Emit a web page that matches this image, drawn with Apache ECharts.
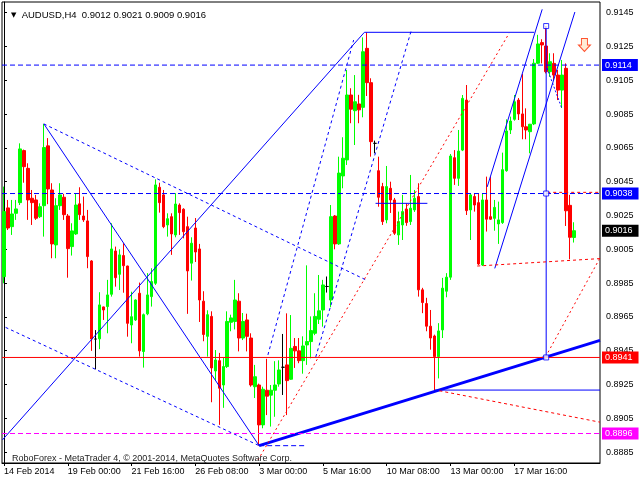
<!DOCTYPE html>
<html><head><meta charset="utf-8">
<script src="https://cdn.jsdelivr.net/npm/echarts@6/dist/echarts.min.js"></script>
<style>html,body{margin:0;padding:0;background:#fff}#c{width:640px;height:480px}</style>
</head><body><div id="c"></div>
<script>
const FONT = '"Liberation Sans", Arial, sans-serif';
const BAR_COUNT = 150;
const xTickBars = [0, 16, 32, 48, 64, 80, 96, 112, 128];
const xTickLabels = ['14 Feb 2014', '19 Feb 00:00', '21 Feb 16:00', '26 Feb 08:00', '3 Mar 00:00', '5 Mar 16:00', '10 Mar 08:00', '13 Mar 00:00', '17 Mar 16:00'];
const yTicks = [0.8885, 0.8905, 0.8925, 0.8945, 0.8965, 0.8985, 0.9005, 0.9025, 0.9045, 0.9065, 0.9085, 0.9105, 0.9125, 0.9145];

const opens = [
0.89888,0.90295,0.90184,0.90263,0.90326,0.90634,0.90529,0.90352,0.90342,0.90243,
0.90308,0.90662,0.90401,0.90076,0.90308,0.90358,0.90247,0.90066,0.90141,0.90319,
0.90247,0.90218,0.89981,0.89519,0.89520,0.89709,0.89711,0.89784,0.90040,0.89902,
0.90013,0.89951,0.89602,0.89632,0.89790,0.89445,0.89668,0.89770,0.89849,0.90417,
0.90372,0.90194,0.90243,0.90135,0.90312,0.90287,0.90184,0.89968,0.90176,0.90052,
0.89743,0.89535,0.89653,0.89330,0.89391,0.89247,0.89356,0.89618,0.89623,0.89743,
0.89525,0.89632,0.89525,0.89237,0.89247,0.89011,0.89216,0.89187,0.89216,0.89253,
0.89352,0.89366,0.89281,0.89475,0.89449,0.89391,0.89484,0.89504,0.89553,0.89636,
0.89691,0.89830,0.89750,0.90247,0.90082,0.90484,0.90579,0.90963,0.90870,0.90910,
0.90890,0.91239,0.91036,0.90677,0.90515,0.90421,0.90224,0.90411,0.90342,0.90135,
0.90194,0.90287,0.90214,0.90283,0.90362,0.89810,0.89729,0.89595,0.89537,0.89415,
0.89573,0.89802,0.89885,0.90592,0.90470,0.90637,0.90933,0.90283,0.90362,0.90326,
0.89957,0.90342,0.90243,0.90233,0.90200,0.90208,0.90515,0.90756,0.90819,0.90933,
0.90851,0.90775,0.90746,0.90792,0.91151,0.91273,0.91253,0.91101,0.91150,0.91081,
0.90992,0.91121,0.90310,0.9012];
const closes = [
0.90273,0.90176,0.90259,0.90289,0.90644,0.90539,0.90342,0.90326,0.90234,0.90302,
0.90652,0.90407,0.90082,0.90308,0.90372,0.90255,0.90054,0.90159,0.90312,0.90255,
0.90224,0.90007,0.89519,0.89519,0.89721,0.89691,0.89780,0.90052,0.89882,0.90017,
0.89953,0.89612,0.89651,0.89750,0.89449,0.89663,0.89780,0.89859,0.90431,0.90326,
0.90184,0.90231,0.90141,0.90318,0.90267,0.90154,0.89922,0.90086,0.90034,0.89750,
0.89546,0.89663,0.89348,0.89395,0.89228,0.89356,0.89623,0.89644,0.89750,0.89525,
0.89623,0.89535,0.89247,0.89296,0.89011,0.89222,0.89181,0.89216,0.89247,0.89336,
0.89352,0.89273,0.89464,0.89449,0.89391,0.89478,0.89504,0.89569,0.89653,0.89686,
0.89839,0.89830,0.90243,0.90082,0.90501,0.90589,0.90963,0.90879,0.90923,0.90875,
0.91219,0.91036,0.90687,0.90677,0.90358,0.90214,0.90421,0.90342,0.90145,0.90214,
0.90273,0.90208,0.90293,0.90352,0.89810,0.89735,0.89595,0.89525,0.89415,0.89567,
0.89820,0.89885,0.90602,0.90470,0.90631,0.90943,0.90279,0.90372,0.90312,0.89963,
0.90342,0.90228,0.90228,0.90298,0.90224,0.90521,0.90750,0.90809,0.90923,0.90851,
0.90775,0.90756,0.90790,0.91151,0.91265,0.91259,0.91101,0.91160,0.91081,0.90992,
0.91081,0.90278,0.90121,0.9016];
const lows = [
0.89849,0.90164,0.90135,0.90224,0.90312,0.90444,0.90224,0.90194,0.90224,0.90235,
0.90125,0.90317,0.89997,0.89997,0.90283,0.90224,0.89882,0.90013,0.90135,0.90224,
0.90212,0.89938,0.89449,0.89340,0.89459,0.89632,0.89553,0.89770,0.89829,0.89809,
0.89793,0.89533,0.89494,0.89626,0.89415,0.89350,0.89660,0.89711,0.89839,0.90267,
0.90175,0.90125,0.90017,0.90121,0.90135,0.90115,0.89668,0.89865,0.89975,0.89620,
0.89506,0.89415,0.89145,0.89277,0.89011,0.89112,0.89348,0.89565,0.89576,0.89446,
0.89513,0.89446,0.89237,0.89170,0.88888,0.88991,0.89069,0.89001,0.89059,0.89237,
0.89188,0.89069,0.89277,0.89348,0.89376,0.89314,0.89366,0.89405,0.89542,0.89608,
0.89592,0.89794,0.89707,0.90050,0.90076,0.90411,0.90549,0.90796,0.90667,0.90796,
0.90831,0.90957,0.90598,0.90618,0.90302,0.90194,0.90204,0.90265,0.90135,0.90076,
0.90105,0.90189,0.90194,0.90271,0.89770,0.89672,0.89565,0.89456,0.89213,0.89286,
0.89525,0.89766,0.89869,0.90431,0.90425,0.90631,0.90253,0.90105,0.90273,0.89957,
0.89951,0.90155,0.90224,0.90160,0.90082,0.90200,0.90509,0.90732,0.90811,0.90815,
0.90701,0.90701,0.90618,0.90785,0.91146,0.91150,0.91091,0.91071,0.91052,0.90933,
0.90886,0.90188,0.89991,0.9009];
const highs = [
0.90421,0.90342,0.90342,0.90342,0.90677,0.90640,0.90559,0.90401,0.90372,0.90322,
0.90792,0.90708,0.90441,0.90352,0.90441,0.90378,0.90259,0.90204,0.90382,0.90417,
0.90362,0.90283,0.89986,0.89572,0.89796,0.89711,0.89869,0.90204,0.90066,0.90050,
0.90086,0.89953,0.89799,0.89754,0.89853,0.89670,0.89909,0.89938,0.90464,0.90444,
0.90401,0.90263,0.90263,0.90382,0.90322,0.90293,0.90243,0.90121,0.90235,0.90082,
0.89802,0.89689,0.89683,0.89454,0.89437,0.89407,0.89683,0.89663,0.89869,0.89790,
0.89673,0.89669,0.89553,0.89366,0.89255,0.89237,0.89402,0.89247,0.89388,0.89393,
0.89549,0.89671,0.89661,0.89525,0.89525,0.89535,0.89955,0.89653,0.89790,0.89898,
0.89869,0.89889,0.90312,0.90253,0.90598,0.90713,0.91111,0.91003,0.91081,0.90964,
0.91304,0.91334,0.91062,0.90693,0.90598,0.90443,0.90543,0.90450,0.90354,0.90273,
0.90372,0.90322,0.90490,0.90401,0.90441,0.89822,0.89763,0.89691,0.89545,0.89613,
0.89881,0.89909,0.90614,0.90637,0.90756,0.90963,0.91022,0.90382,0.90382,0.90378,
0.90382,0.90480,0.90480,0.90342,0.90332,0.90622,0.90819,0.90835,0.90963,0.90945,
0.91087,0.90884,0.90792,0.91176,0.91319,0.91293,0.91371,0.91210,0.91210,0.91111,
0.91170,0.91150,0.90372,0.9021];

// Horizontal price levels
const levelBlueDashed = [0.9114, 0.9038];
const levelRed = 0.8941;
const levelMagenta = 0.8896;
const bidPrice = 0.9016;
const X_FIRST = -0.5, X_LAST = BAR_COUNT - 0.5;

// Trend objects as [bar index, price]
const solidA = [[10, 0.90792], [64, 0.88888]];
const solidB = [[-0.4, 0.88922], [90.4, 0.91334]];
const thickC = [[64, 0.88888], [149.5, 0.89511]];
const vertical = [[136, 0.91371], [136, 0.89411]];
const channel1 = [[121.2, 0.90419], [135, 0.91470]];
const channel2 = [[123.1, 0.89937], [143.2, 0.91454]];
const topLevel = [[90.4, 0.91334], [133, 0.91334]];
const midLevel = [[93.2, 0.90322], [106.2, 0.90322]];
const lowLevel = [[108, 0.89217], [149.5, 0.89217]];
const shortSeg = [[136.2, 0.91123], [139.9, 0.90886]];
const dashed1 = [[10, 0.90792], [90.85, 0.89868]];
const dashed2 = [[0.4, 0.89588], [64, 0.88888]];
const dashed2h = [[64, 0.88888], [75.4, 0.88888]];
const dashed3 = [[66.2, 0.89425], [87.7, 0.91288]];
const dashed4 = [[78.2, 0.89413], [102.2, 0.91348]];
const red1 = [[63.7, 0.88803], [126.7, 0.91328]];
const red3 = [[109.2, 0.89213], [149.5, 0.89027]];
const red4 = [[135.85, 0.89414], [149.5, 0.89999]];
const red5 = [[118.7, 0.89951], [149.5, 0.89995]];
const red6 = [[136.25, 0.90387], [149.5, 0.90387]];
const squares = [[136, 0.91371], [136, 0.9038], [136, 0.8941]];
const arrowPoint = [[145.6, 0.91259]];

const categories = Array.from({length: BAR_COUNT}, (_, i) => String(i));
const candles = opens.map((o, i) => [o, closes[i], lows[i], highs[i]]);
const hLine = (p) => [[X_FIRST, p], [X_LAST, p]];

function seg(data, color, width, type, z) {
  return {type: 'line', xAxisIndex: 1, yAxisIndex: 0, data: data, symbol: 'none', silent: true,
    animation: false, z: z || 3, lineStyle: {color: color, width: width, type: type}};
}
function level(price, color, type, boxColor, hidden) {
  const s = seg(hLine(price), hidden ? 'rgba(0,0,0,0)' : color, hidden ? 0 : 1, type, 4);
  s.endLabel = {show: true, distance: 2, color: '#fff', backgroundColor: boxColor, fontSize: 9, fontFamily: FONT,
    padding: [2, 6, 1, 3], formatter: () => price.toFixed(4)};
  return s;
}
const BLUE = '#0000ff', RED = '#ff0000', MAGENTA = '#ff00ff';
const showTick = (i) => xTickBars.indexOf(i) >= 0;

const chart = echarts.init(document.getElementById('c'), null, {renderer: 'canvas'});
chart.setOption({
  animation: false,
  backgroundColor: '#fff',
  title: [
    {text: '{t|▼}  AUDUSD,H4  0.9012 0.9021 0.9009 0.9016', left: 6, top: 5,
     textStyle: {fontSize: 9.5, fontWeight: 'normal', color: '#000', fontFamily: FONT,
       rich: {t: {fontSize: 7, color: '#000', fontFamily: 'DejaVu Sans'}}}},
    {text: 'RoboForex - MetaTrader 4, © 2001-2014, MetaQuotes Software Corp.', left: 7, top: 449,
     textStyle: {fontSize: 9, fontWeight: 'normal', color: '#222', fontFamily: FONT}}
  ],
  grid: {left: 2, right: 40, top: 2, bottom: 17, show: true, borderColor: '#000', borderWidth: 1, backgroundColor: '#fff'},
  xAxis: [
    {type: 'category', data: categories, boundaryGap: true,
     axisLine: {show: true, lineStyle: {color: '#000', width: 1}},
     axisTick: {show: true, alignWithLabel: true, interval: showTick, length: 3, lineStyle: {color: '#000'}},
     axisLabel: {show: true, interval: showTick, align: 'left', margin: 4, fontSize: 9, color: '#000', fontFamily: FONT,
       formatter: (v, i) => { const j = xTickBars.indexOf(Number(v)); return j >= 0 ? xTickLabels[j] : ''; }},
     splitLine: {show: false}},
    {type: 'value', min: X_FIRST, max: X_LAST, show: false}
  ],
  yAxis: {type: 'value', position: 'right', min: 0.887855, max: 0.915133, scale: true,
    splitLine: {show: false},
    axisLine: {show: true, lineStyle: {color: '#000'}},
    axisTick: {show: true, length: 3, customValues: yTicks, lineStyle: {color: '#000'}},
    axisLabel: {show: true, customValues: yTicks, margin: 6, fontSize: 9, color: '#000', fontFamily: FONT,
      formatter: v => v.toFixed(4)}},
  series: [
    level(levelBlueDashed[0], BLUE, [5, 3], BLUE),
    level(levelBlueDashed[1], BLUE, [5, 3], BLUE),
    level(bidPrice, '#000', 'solid', '#000', true),
    level(levelRed, RED, 'solid', RED),
    level(levelMagenta, MAGENTA, [5, 3], MAGENTA),
    {type: 'candlestick', xAxisIndex: 0, yAxisIndex: 0, data: candles, barWidth: 3, z: 2,
     itemStyle: {color: '#00ff00', color0: RED, borderColor: '#00ff00', borderColor0: RED, borderColorDoji: '#000', borderWidth: 1}},
    seg(solidA, BLUE, 1, 'solid'),
    seg(solidB, BLUE, 1, 'solid'),
    seg(thickC, BLUE, 3, 'solid'),
    seg(vertical, BLUE, 1, 'solid'),
    seg(channel1, BLUE, 1, 'solid'),
    seg(channel2, BLUE, 1, 'solid'),
    seg(topLevel, BLUE, 1, 'solid'),
    seg(midLevel, BLUE, 1, 'solid'),
    seg(lowLevel, BLUE, 1, 'solid'),
    seg(shortSeg, BLUE, 1, [2, 2]),
    seg(dashed1, BLUE, 1, [3, 3]),
    seg(dashed2, BLUE, 1, [3, 3]),
    seg(dashed2h, BLUE, 1, [5, 3]),
    seg(dashed3, BLUE, 1, [3, 3]),
    seg(dashed4, BLUE, 1, [3, 3]),
    seg(red1, RED, 1, [2, 3]),
    seg(red3, RED, 1, [3, 3]),
    seg(red4, RED, 1, [2, 3]),
    seg(red5, RED, 1, [3, 3]),
    seg(red6, RED, 1, [3, 3]),
    {type: 'scatter', xAxisIndex: 1, yAxisIndex: 0, data: squares, symbol: 'rect', symbolSize: 5, z: 6, silent: true,
     itemStyle: {color: '#fff', borderColor: BLUE, borderWidth: 1}},
    {type: 'scatter', xAxisIndex: 1, yAxisIndex: 0, data: arrowPoint, z: 6, silent: true,
     symbol: 'path://M3,0 L9,0 L9,6 L12,6 L6,12 L0,6 L3,6 Z', symbolSize: [12, 13],
     itemStyle: {color: '#ffe6cc', borderColor: '#ff2a00', borderWidth: 1}}
  ]
});
</script></body></html>
